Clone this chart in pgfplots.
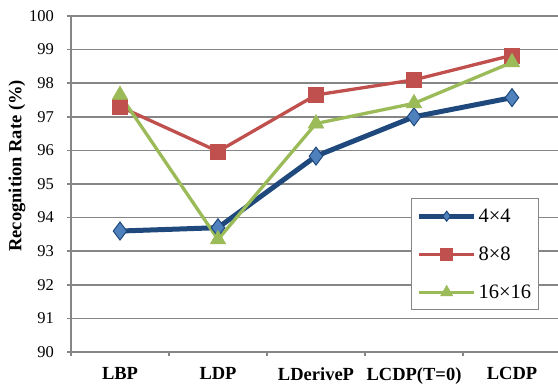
\documentclass[border=0pt]{standalone}
\usepackage{pgfplots}
\pgfplotsset{compat=1.18}
\usepackage{fontspec}
\setmainfont{Liberation Serif}
\definecolor{bline}{HTML}{1F497D}
\definecolor{bfill}{HTML}{4F81BD}
\definecolor{rline}{HTML}{C0504D}
\definecolor{gline}{HTML}{9BBB59}
\definecolor{gridc}{HTML}{868686}
\begin{document}
\begin{tikzpicture}[x=1bp,y=1bp]
\useasboundingbox (0,0) rectangle (558,385);
\begin{axis}[
  at={(71bp,33bp)}, anchor=south west,
  width=490bp, height=336bp, scale only axis,
  xmin=0.5, xmax=5.5, ymin=90, ymax=100,
  ytick={90,91,...,100},
  xtick={1,2,3,4,5},
  xticklabels={LBP,LDP,LDeriveP,LCDP(T=0),LCDP},
  minor xtick={0.5,1.5,2.5,3.5,4.5,5.5},
  major x tick style={draw=none},
  minor tick length=4bp, major tick length=4bp,
  tick align=outside,
  axis x line*=bottom, axis y line*=left,
  axis line style={draw=gridc, line width=1.5bp, -},
  tick style={draw=gridc, line width=1.5bp},
  ymajorgrids, major grid style={draw=gridc, line width=1.5bp},
  /pgf/number format/assume math mode=true,
  yticklabel style={font=\fontsize{16.5bp}{18bp}\selectfont, inner sep=0pt, xshift=-13bp},
  xticklabel style={font=\bfseries\fontsize{18.5bp}{20bp}\selectfont, inner sep=0pt, yshift=-11bp},
  ylabel={Recognition Rate (\%)},
  ylabel style={font=\bfseries\fontsize{18.5bp}{20bp}\selectfont, at={(axis description cs:-0.110,0.554)}, anchor=center},
  legend style={at={(0.694,0.458)}, anchor=north west, draw=gridc, line width=1.2bp, fill=white,
    font=\fontsize{20.5bp}{22bp}\selectfont, inner xsep=5bp, inner ysep=8bp, row sep=19bp,
    cells={anchor=west}},
  legend image code/.code={\draw[mark repeat=2,mark phase=2] plot coordinates {(0bp,0bp) (27.5bp,0bp) (55bp,0bp)};},
  clip=false,
]
\addplot[bline, line width=5bp, mark=diamond*, mark size=9bp, mark options={fill=bfill, draw=bline, line width=1bp},
  legend image post style={mark size=5bp}]
  coordinates {(1,93.6) (2,93.7) (3,95.83) (4,97.0) (5,97.57)};
\addlegendentry{4×4}
\addplot[rline, line width=3.3bp, mark=square*, mark size=7.5bp, mark options={fill=rline, draw=rline, line width=0.5bp},
  legend image post style={mark size=6bp}]
  coordinates {(1,97.3) (2,95.97) (3,97.65) (4,98.1) (5,98.83)};
\addlegendentry{8×8}
\addplot[gline, line width=3.3bp, mark=triangle*, mark size=9bp, mark options={fill=gline, draw=gline, line width=0.5bp},
  legend image post style={mark size=7bp}]
  coordinates {(1,97.65) (2,93.35) (3,96.8) (4,97.4) (5,98.62)};
\addlegendentry{16×16}
\end{axis}
\end{tikzpicture}
\end{document}
